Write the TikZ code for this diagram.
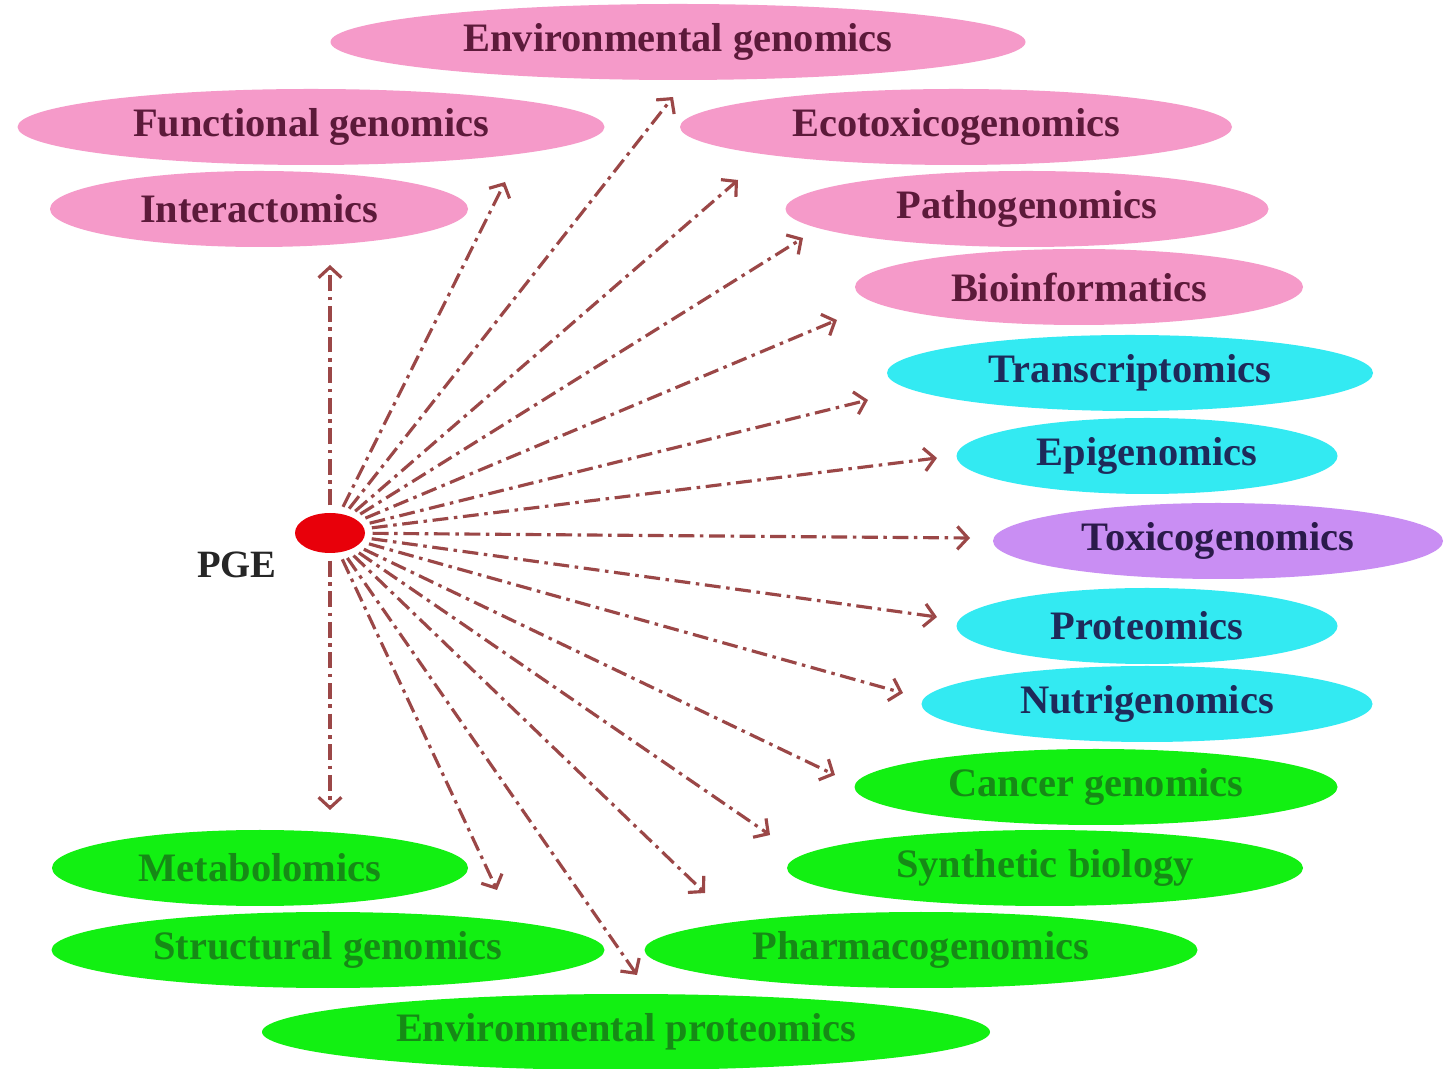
\documentclass[tikz,border=0pt]{standalone}
\usepackage{fontspec}
\setmainfont{Liberation Serif}
\usetikzlibrary{shapes.geometric,arrows.meta}
\definecolor{pinkf}{HTML}{F59AC9}
\definecolor{pinkt}{HTML}{5C1A3A}
\definecolor{cyanf}{HTML}{33EAF2}
\definecolor{cyant}{HTML}{1E2A5A}
\definecolor{purf}{HTML}{C98EF3}
\definecolor{purt}{HTML}{2A1A4A}
\definecolor{grnf}{HTML}{12F012}
\definecolor{grnt}{HTML}{168A16}
\definecolor{arrc}{HTML}{9B4747}
\definecolor{dotc}{HTML}{E8000A}
\tikzset{
  ell/.style={ellipse, inner sep=0pt, minimum height=0.76cm,
    font=\fontsize{11.5}{13}\selectfont\bfseries},
  pk/.style={ell, fill=pinkf, text=pinkt},
  cy/.style={ell, fill=cyanf, text=cyant},
  pu/.style={ell, fill=purf, text=purt},
  gr/.style={ell, fill=grnf, text=grnt},
  arr/.style={draw=arrc, line width=0.9pt,
    dash pattern=on 4.5pt off 1.6pt on 1pt off 1.6pt,
    -{Straight Barb[length=3pt,width=6.5pt]}, shorten <=2pt}
}
\begin{document}
\begin{tikzpicture}
\useasboundingbox[fill=white] (0,0) rectangle (14.55,-10.69);
% pink
\node[pk, minimum width=6.95cm] (envg) at (6.78,-0.42) {Environmental genomics};
\node[pk, minimum width=5.87cm] (func) at (3.11,-1.27) {Functional genomics};
\node[pk, minimum width=5.52cm] (ecot) at (9.56,-1.27) {Ecotoxicogenomics};
\node[pk, minimum width=4.18cm] (inter) at (2.59,-2.09) {Interactomics};
\node[pk, minimum width=4.83cm] (path) at (10.27,-2.09) {Pathogenomics};
\node[pk, minimum width=4.48cm] (bioi) at (10.79,-2.87) {Bioinformatics};
% cyan
\node[cy, minimum width=4.86cm] (trans) at (11.30,-3.73) {Transcriptomics};
\node[cy, minimum width=3.81cm] (epig) at (11.47,-4.56) {Epigenomics};
\node[pu, minimum width=4.50cm] (toxg) at (12.18,-5.41) {Toxicogenomics};
\node[cy, minimum width=3.81cm] (prot) at (11.47,-6.26) {Proteomics};
\node[cy, minimum width=4.51cm] (nutr) at (11.47,-7.04) {Nutrigenomics};
% green
\node[gr, minimum width=4.83cm] (canc) at (10.96,-7.87) {Cancer genomics};
\node[gr, minimum width=5.16cm] (synb) at (10.45,-8.68) {Synthetic biology};
\node[gr, minimum width=4.16cm] (meta) at (2.60,-8.68) {Metabolomics};
\node[gr, minimum width=5.53cm] (strg) at (3.28,-9.50) {Structural genomics};
\node[gr, minimum width=5.53cm] (phar) at (9.21,-9.50) {Pharmacogenomics};
\node[gr, minimum width=7.28cm] (envp) at (6.26,-10.32) {Environmental proteomics};
% centre
\node[ellipse, fill=dotc, minimum width=0.70cm, minimum height=0.40cm, inner sep=0pt] (pge) at (3.30,-5.33) {};
\node[font=\fontsize{11}{13}\selectfont\bfseries, text=black!85] (pgel) at (2.37,-5.65) {PGE};
% arrow ends
\coordinate (aUp) at (3.30,-2.65);
\coordinate (aDn) at (3.30,-8.10);
\coordinate (a1) at (5.05,-1.82);
\coordinate (a2) at (6.73,-0.97);
\coordinate (a3) at (7.38,-1.80);
\coordinate (a4) at (8.03,-2.38);
\coordinate (a5) at (8.37,-3.20);
\coordinate (a6) at (8.68,-4.00);
\coordinate (a7) at (9.37,-4.58);
\coordinate (a8) at (9.70,-5.38);
\coordinate (a9) at (9.37,-6.17);
\coordinate (a10) at (9.03,-6.93);
\coordinate (a11) at (8.35,-7.75);
\coordinate (a12) at (7.70,-8.35);
\coordinate (a13) at (7.05,-8.93);
\coordinate (a14) at (6.37,-9.75);
\coordinate (a15) at (4.97,-8.90);
\foreach \t in {aUp,aDn,a1,a2,a3,a4,a5,a6,a7,a8,a9,a10,a11,a12,a13,a14,a15}
  \draw[arr] (pge) -- (\t);
\end{tikzpicture}
\end{document}
